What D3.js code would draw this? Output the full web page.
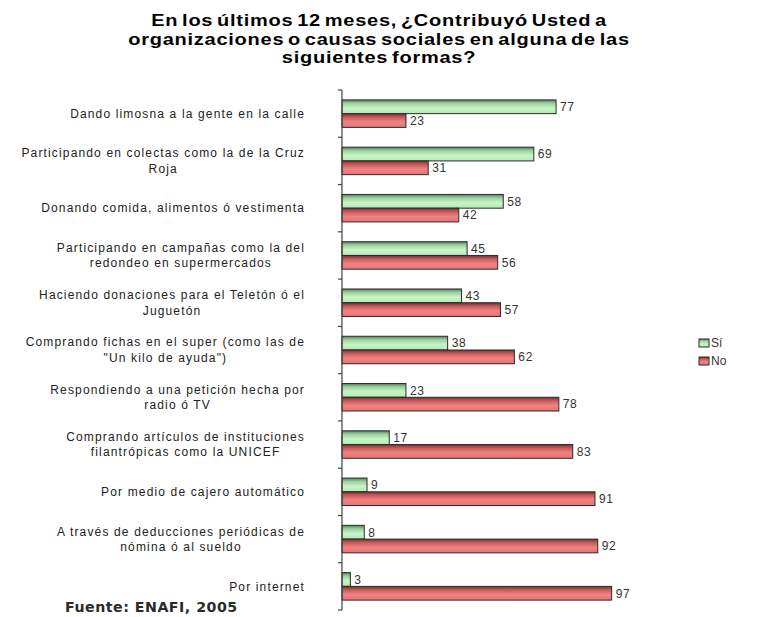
<!DOCTYPE html>
<html>
<head>
<meta charset="utf-8">
<script src="https://cdn.jsdelivr.net/npm/d3@7"></script>
<style>
  html, body { margin: 0; padding: 0; background: #fff; }
  svg { display: block; }
  text { font-family: "Liberation Sans", Arial, sans-serif; }
</style>
</head>
<body>
<svg id="chart" width="759" height="617"></svg>
<script>
// Survey categories (each entry is a list of wrapped label lines)
const categories = [
  ["Dando limosna a la gente en la calle"],
  ["Participando en colectas como la de la Cruz", "Roja"],
  ["Donando comida, alimentos ó vestimenta"],
  ["Participando en campañas como la del", "redondeo en supermercados"],
  ["Haciendo donaciones para el Teletón  ó el", "Juguetón"],
  ["Comprando fichas en el super (como las de", "\"Un kilo de ayuda\")"],
  ["Respondiendo a una petición hecha por", "radio ó TV"],
  ["Comprando artículos de instituciones", "filantrópicas como la UNICEF"],
  ["Por medio de cajero automático"],
  ["A través de deducciones periódicas de", "nómina ó al sueldo"],
  ["Por internet"]
];
const series = ["Sí", "No"];
const valuesSi = [77, 69, 58, 45, 43, 38, 23, 17, 9, 8, 3];
const valuesNo = [23, 31, 42, 56, 57, 62, 78, 83, 91, 92, 97];
const titleLines = [
  "En los últimos 12 meses, ¿Contribuyó Usted a",
  "organizaciones o causas sociales en alguna de las",
  "siguientes formas?"
];
const sourceNote = "Fuente: ENAFI, 2005";

const svg = d3.select("#chart");

// Gradients giving the bars their shaded look
const defs = svg.append("defs");
function shade(id, stops) {
  const g = defs.append("linearGradient").attr("id", id)
    .attr("x1", 0).attr("y1", 0).attr("x2", 0).attr("y2", 1);
  stops.forEach(([o, c]) => g.append("stop").attr("offset", o).attr("stop-color", c));
}
shade("gSi", [[0, "#557f5a"], [0.25, "#9ccf9f"], [0.6, "#c8f5c6"], [1, "#b6e8b4"]]);
shade("gNo", [[0, "#723030"], [0.25, "#c65a5a"], [0.6, "#f08282"], [1, "#e57474"]]);
const fills = { "Sí": "url(#gSi)", "No": "url(#gNo)" };

const idx = d3.range(categories.length);
const y = d3.scaleBand().domain(idx).range([90, 610]).paddingInner(0).paddingOuter(0);
const ySub = d3.scaleBand().domain(series).range([0, y.bandwidth()]).paddingInner(0).paddingOuter(0.72);
const x = d3.scaleLinear().domain([0, 100]).range([342, 620]);

// Title: bold, set in a horizontally widened face
const title = svg.append("text")
  .attr("transform", "translate(379,0) scale(1.25,1)")
  .attr("text-anchor", "middle")
  .style("font-weight", "bold")
  .style("font-size", "16px")
  .style("letter-spacing", "0.6px")
  .style("word-spacing", "-2px")
  .attr("fill", "#000");
titleLines.forEach((t, i) => {
  title.append("tspan").attr("x", 0).attr("y", 26 + i * 18.6).text(t);
});

// Bars
const rows = idx.map(i => ({ i, vals: [
  { s: "Sí", v: valuesSi[i] },
  { s: "No", v: valuesNo[i] }
] }));

const groups = svg.append("g").selectAll("g").data(rows).join("g")
  .attr("transform", d => `translate(0,${y(d.i)})`);

groups.selectAll("rect").data(d => d.vals).join("rect")
  .attr("x", x(0))
  .attr("y", d => ySub(d.s))
  .attr("width", d => x(d.v) - x(0))
  .attr("height", ySub.bandwidth())
  .attr("fill", d => fills[d.s])
  .attr("stroke", "#2b2b2b")
  .attr("stroke-width", 1);

groups.selectAll("text.val").data(d => d.vals).join("text")
  .attr("class", "val")
  .attr("x", d => x(d.v) + 4)
  .attr("y", d => ySub(d.s) + ySub.bandwidth() / 2)
  .attr("dy", "0.36em")
  .style("font-size", "12px")
  .style("letter-spacing", "0.6px")
  .attr("fill", "#333")
  .text(d => d.v);

// Vertical category axis with ticks at band boundaries
const axisG = svg.append("g");
axisG.append("line")
  .attr("x1", x(0)).attr("x2", x(0))
  .attr("y1", y.range()[0]).attr("y2", y.range()[1])
  .attr("stroke", "#444").attr("stroke-width", 1.2);
const bounds = idx.map(i => y(i)).concat([y.range()[1]]);
axisG.selectAll("line.tick").data(bounds).join("line")
  .attr("class", "tick")
  .attr("x1", x(0) - 4).attr("x2", x(0))
  .attr("y1", d => d).attr("y2", d => d)
  .attr("stroke", "#444").attr("stroke-width", 1.2);

// Category labels: each block right-aligned, lines centred within the block
const labelRight = 305;
const lineH = 15.5;
const labelG = svg.append("g");
categories.forEach((lines, i) => {
  const t = labelG.append("text")
    .style("font-size", "12px")
    .style("letter-spacing", "1.15px")
    .attr("fill", "#222")
    .attr("text-anchor", "middle");
  const cy = y(i) + y.bandwidth() / 2;
  const spans = lines.map((ln, j) => t.append("tspan")
    .attr("y", cy + (j - (lines.length - 1) / 2) * lineH)
    .attr("dy", "0.35em")
    .text(ln));
  const maxW = d3.max(spans, s => s.node().getComputedTextLength());
  spans.forEach(s => s.attr("x", labelRight - maxW / 2));
});

// Legend
const legend = svg.append("g").attr("transform", "translate(699,339)");
series.forEach((s, i) => {
  const g = legend.append("g").attr("transform", `translate(0,${i * 18})`);
  g.append("rect").attr("width", 10).attr("height", 8)
    .attr("fill", fills[s]).attr("stroke", "#2b2b2b").attr("stroke-width", 1);
  g.append("text").attr("x", 12).attr("y", 4).attr("dy", "0.36em")
    .style("font-size", "12px").attr("fill", "#333").text(s);
});

// Source note
svg.append("text")
  .attr("x", 65).attr("y", 612)
  .style("font-family", "'DejaVu Sans', Verdana, sans-serif")
  .style("font-weight", "bold")
  .style("font-size", "14.2px")
  .style("letter-spacing", "0.5px")
  .attr("fill", "#2a2a2a")
  .text(sourceNote);
</script>
</body>
</html>
